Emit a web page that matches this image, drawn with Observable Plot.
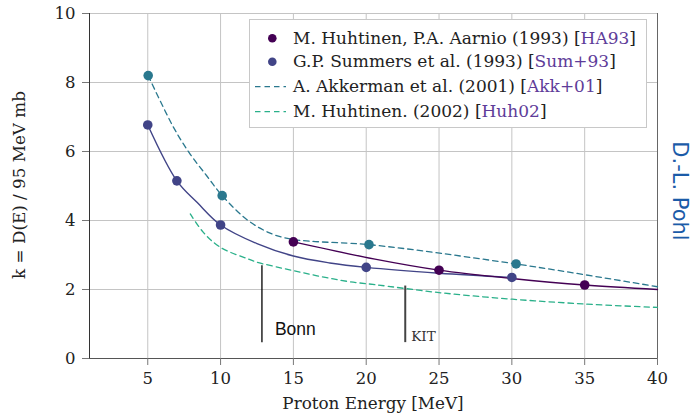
<!DOCTYPE html>
<html><head><meta charset="utf-8">
<script src="https://cdn.jsdelivr.net/npm/d3@7"></script>
<script src="https://cdn.jsdelivr.net/npm/@observablehq/plot@0.6"></script>
<style>
html,body{margin:0;padding:0;background:#fff}
#chart{position:relative;width:694px;height:416px}
</style>
</head><body><div id="chart"></div>
<script>
// ---- data ----
const xTicks = [5, 10, 15, 20, 25, 30, 35, 40];
const yTicks = [0, 2, 4, 6, 8, 10];

// M. Huhtinen, P.A. Aarnio (1993)
const ha93E = [15, 25, 35];
const ha93K = [3.38, 2.56, 2.13];
const ha93LineE = [15, 20.6, 25, 30, 35, 40];
const ha93LineK = [3.38, 2.88, 2.56, 2.32, 2.13, 2.0];

// G.P. Summers et al. (1993)
const sumE = [5, 7, 10, 20, 30];
const sumK = [6.77, 5.15, 3.87, 2.64, 2.35];
const sumLineE = [5, 7, 8.4, 10, 12.5, 15, 17.5, 20, 25, 30];
const sumLineK = [6.77, 5.15, 4.52, 3.87, 3.33, 2.97, 2.77, 2.64, 2.47, 2.35];

// A. Akkerman et al. (2001)
const akkE = [5.03, 10.11, 20.19, 30.29];
const akkK = [8.2, 4.72, 3.3, 2.74];
const akkLineE = [5.03, 6.77, 7.92, 9.06, 10.11, 11.92, 13.53, 15, 16.5, 20.19, 30.29, 40];
const akkLineK = [8.2, 6.7, 5.92, 5.29, 4.72, 3.99, 3.61, 3.45, 3.39, 3.3, 2.74, 2.08];

// M. Huhtinen (2002)
const huhLineE = [7.92, 8.83, 10, 11.92, 12.6, 14.21, 15.59, 17.19, 18.79, 20.62, 25, 30, 35, 40];
const huhLineK = [4.19, 3.65, 3.22, 2.88, 2.78, 2.62, 2.49, 2.35, 2.23, 2.14, 1.91, 1.72, 1.58, 1.48];

// annotations (facility energies)
const annoName = ["Bonn", "KIT"];
const annoE = [12.84, 22.68];
const annoLow = [0.46, 0.46];
const annoHigh = [2.69, 2.1];

const legendLabels = [
  ["M. Huhtinen, P.A. Aarnio (1993) ", "HA93"],
  ["G.P. Summers et al. (1993) ", "Sum+93"],
  ["A. Akkerman et al. (2001) ", "Akk+01"],
  ["M. Huhtinen. (2002) ", "Huh02"]
];

// ---- build tables ----
const pts = (E, K) => E.map((e, i) => ({E: e, K: K[i]}));
const anno = annoName.map((n, i) => ({name: n, E: annoE[i], lo: annoLow[i], hi: annoHigh[i]}));

const C = {ha: "#440154", sum: "#414487", akk: "#2a788e", huh: "#2ab08a"};
const serif = "DejaVu Serif";
const dash = "5.5,4";

const chart = Plot.plot({
  width: 694, height: 416,
  marginLeft: 89, marginRight: 37, marginTop: 13, marginBottom: 58,
  x: {domain: [1, 40]},
  y: {domain: [0, 10]},
  style: {fontFamily: serif, fontSize: "16.5px", color: "#222", background: "#fff", overflow: "visible"},
  marks: [
    Plot.gridX(xTicks, {stroke: "#c4c4c4", strokeOpacity: 1, strokeWidth: 1}),
    Plot.gridY(yTicks, {stroke: "#c4c4c4", strokeOpacity: 1, strokeWidth: 1}),
    Plot.ruleX([40], {stroke: "#666", strokeWidth: 1}),
    Plot.ruleX([1], {stroke: "#333", strokeWidth: 1}),
    Plot.ruleY([0], {stroke: "#555", strokeWidth: 1}),
    Plot.axisX(xTicks, {tickSize: 7, tickPadding: 7, stroke: "#777", label: null, fontSize: 16.5, fill: "#222"}),
    Plot.axisY(yTicks, {tickSize: 7, tickPadding: 7, stroke: "#777", label: null, fontSize: 16.5, fill: "#222"}),

    Plot.line(pts(huhLineE, huhLineK), {x: "E", y: "K", stroke: C.huh, strokeWidth: 1.3, strokeDasharray: dash, curve: "catmull-rom"}),
    Plot.line(pts(akkLineE, akkLineK), {x: "E", y: "K", stroke: C.akk, strokeWidth: 1.3, strokeDasharray: dash, curve: "catmull-rom"}),
    Plot.line(pts(sumLineE, sumLineK), {x: "E", y: "K", stroke: C.sum, strokeWidth: 1.4, curve: "catmull-rom"}),
    Plot.line(pts(ha93LineE, ha93LineK), {x: "E", y: "K", stroke: C.ha, strokeWidth: 1.4, curve: "catmull-rom"}),

    Plot.dot(pts(akkE, akkK), {x: "E", y: "K", r: 4.8, fill: C.akk, stroke: "none"}),
    Plot.dot(pts(sumE, sumK), {x: "E", y: "K", r: 4.8, fill: C.sum, stroke: "none"}),
    Plot.dot(pts(ha93E, ha93K), {x: "E", y: "K", r: 4.8, fill: C.ha, stroke: "none"}),

    Plot.ruleX(anno.filter(d => d.name === "Bonn"), {x: "E", y1: "lo", y2: "hi", stroke: "#000", strokeWidth: 1.3}),
    Plot.ruleX(anno.filter(d => d.name === "KIT"), {x: "E", y1: "lo", y2: "hi", stroke: "#444", strokeWidth: 2}),
    Plot.text(anno.filter(d => d.name === "Bonn"), {x: "E", y: "lo", text: "name", textAnchor: "start", dx: 13, dy: -13, lineAnchor: "middle", fontFamily: "Liberation Sans", fontSize: 17.5, fill: "#111"}),
    Plot.text(anno.filter(d => d.name === "KIT"), {x: "E", y: "lo", text: "name", textAnchor: "start", dx: 6, dy: -6, lineAnchor: "middle", fontFamily: serif, fontSize: 13.5, fill: "#333"})
  ]
});

document.getElementById("chart").appendChild(chart);
const svg = d3.select(chart);

// axis titles
svg.append("text")
  .attr("transform", "translate(25,185) rotate(-90)")
  .attr("text-anchor", "middle")
  .attr("font-family", serif).attr("font-size", 16.8).attr("fill", "#222")
  .text("k = D(E) / 95 MeV mb");
svg.append("text")
  .attr("x", 373).attr("y", 409)
  .attr("text-anchor", "middle")
  .attr("font-family", serif).attr("font-size", 16.8).attr("fill", "#222")
  .text("Proton Energy [MeV]");

// watermark
svg.append("text")
  .attr("transform", "translate(673,191) rotate(90)")
  .attr("text-anchor", "middle")
  .attr("font-family", "DejaVu Sans").attr("font-size", 21).attr("fill", "#1b5ba8")
  .text("D.-L. Pohl");

// legend
const lg = svg.append("g");
lg.append("rect").attr("x", 249.5).attr("y", 19.5).attr("width", 397).attr("height", 108)
  .attr("fill", "#ffffff").attr("fill-opacity", 1).attr("stroke", "#c8c8c8").attr("stroke-width", 1);
const rowsY = [38.3, 61.7, 86.7, 111.7];
const kinds = [["dot", C.ha], ["dot", C.sum], ["dash", C.akk], ["dash", C.huh]];
kinds.forEach(([k, col], i) => {
  const cy = rowsY[i];
  if (k === "dot") lg.append("circle").attr("cx", 272.3).attr("cy", cy).attr("r", 4.3).attr("fill", col);
  else lg.append("line").attr("x1", 255).attr("x2", 286).attr("y1", cy).attr("y2", cy)
    .attr("stroke", col).attr("stroke-width", 1.3).attr("stroke-dasharray", dash);
  const t = lg.append("text").attr("x", 293).attr("y", cy + 5.5)
    .attr("text-anchor", "start")
    .attr("font-family", serif).attr("font-size", 17).attr("fill", "#222");
  t.append("tspan").text(legendLabels[i][0] + "[");
  t.append("tspan").attr("fill", "#5e3c99").text(legendLabels[i][1]);
  t.append("tspan").text("]");
});
</script>
</body></html>
